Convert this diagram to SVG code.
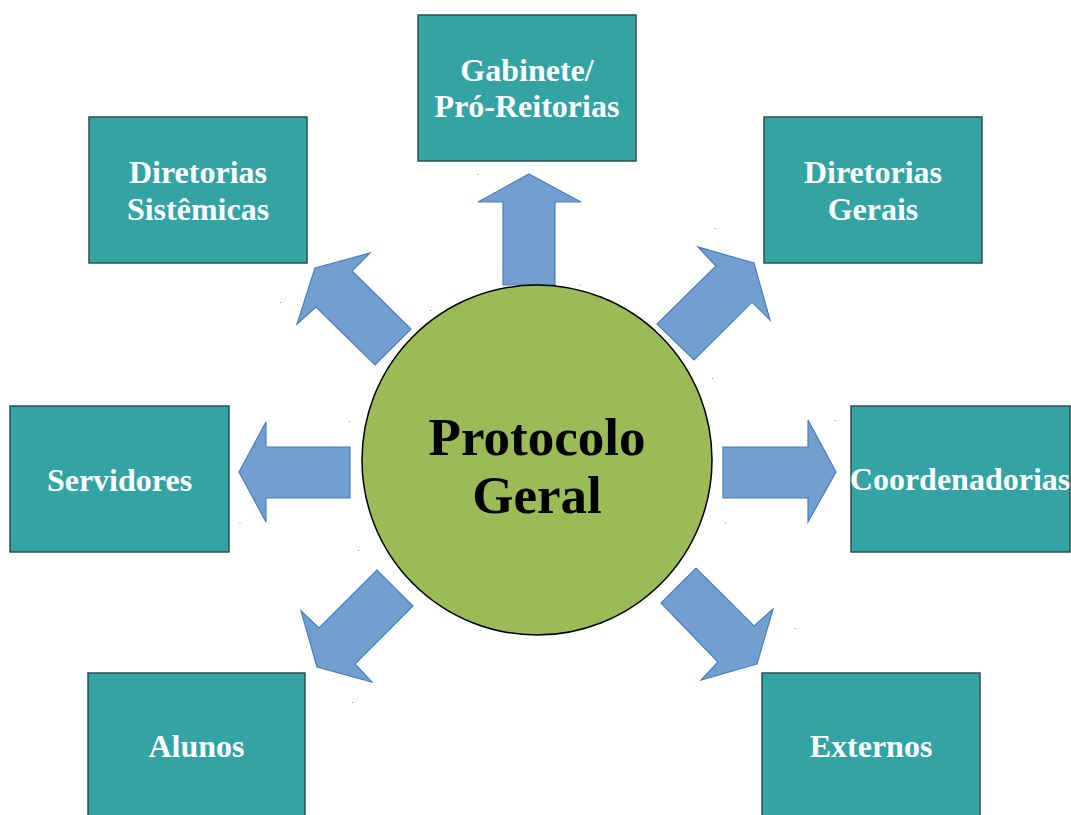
<svg xmlns="http://www.w3.org/2000/svg" width="1071" height="815" viewBox="0 0 1071 815">
  <style>
    .box { fill: #33a3a3; stroke: #2f4f4f; stroke-width: 1.5; }
    .lbl { fill: #ffffff; font-family: "Liberation Serif", "Times New Roman", serif; font-weight: bold; font-size: 32px; text-anchor: middle; }
    .arrow { fill: #729fcf; stroke: #4a7ebb; stroke-width: 1.2; stroke-linejoin: miter; }
    .hub { fill: #9bbb59; stroke: #000000; stroke-width: 1.5; }
    .hubtxt { fill: #000000; font-family: "Liberation Serif", "Times New Roman", serif; font-weight: bold; font-size: 53px; text-anchor: middle; }
    .dot { fill: #6f8fb8; }
  </style>
  <rect width="1071" height="815" fill="#ffffff"/>

  <!-- connectors: block arrows radiating from the hub -->
  <g id="connectors">
    <polygon class="arrow" points="529,174 581,202 555,202 555,285 503,285 503,202 478,202"/>
    <polygon class="arrow" points="315,268 370,253 352,271 411,329 375,365 316,307 297,324"/>
    <polygon class="arrow" points="754,263 770,320 752,302 694,360 657,324 716,266 698,247"/>
    <polygon class="arrow" points="239,472 266,422 266,447 350,447 350,498 266,498 266,522"/>
    <polygon class="arrow" points="836,472 808,522 808,498 723,498 723,447 808,447 808,420"/>
    <polygon class="arrow" points="317,667 301,611 319,628 377,570 413,606 355,664 372,682"/>
    <polygon class="arrow" points="757,664 701,680 718,662 661,603 696,568 754,626 773,609"/>
  </g>

  <!-- scattered marker dots -->
  <g id="marks">
    <rect class="dot" x="477.5" y="174" width="1" height="1"/>
    <rect class="dot" x="579.5" y="284.5" width="1" height="1"/>
    <rect class="dot" x="715" y="228" width="1" height="1"/>
    <rect class="dot" x="280" y="302" width="1" height="1"/>
    <rect class="dot" x="430" y="310" width="1" height="1"/>
    <rect class="dot" x="712" y="378" width="1" height="1"/>
    <rect class="dot" x="349" y="421" width="1" height="1"/>
    <rect class="dot" x="835" y="420" width="1" height="1"/>
    <rect class="dot" x="239.5" y="522.5" width="1" height="1"/>
    <rect class="dot" x="725" y="522.5" width="1" height="1"/>
    <rect class="dot" x="358" y="550" width="1" height="1"/>
    <rect class="dot" x="795" y="628" width="1" height="1"/>
    <rect class="dot" x="352" y="702" width="1" height="1"/>
  </g>

  <g id="hub">
    <circle class="hub" cx="537" cy="460" r="175"/>
    <text class="hubtxt" x="537" y="455">Protocolo</text>
    <text class="hubtxt" x="537" y="513">Geral</text>
  </g>

  <g id="gabinete">
    <rect class="box" x="418" y="15" width="218" height="146"/>
    <text class="lbl" x="527" y="81">Gabinete/</text>
    <text class="lbl" x="527" y="117">Pró-Reitorias</text>
  </g>

  <g id="diretorias-sistemicas">
    <rect class="box" x="89" y="117" width="218" height="146"/>
    <text class="lbl" x="198" y="183">Diretorias</text>
    <text class="lbl" x="198" y="220">Sistêmicas</text>
  </g>

  <g id="diretorias-gerais">
    <rect class="box" x="764" y="117" width="218" height="146"/>
    <text class="lbl" x="873" y="183">Diretorias</text>
    <text class="lbl" x="873" y="220">Gerais</text>
  </g>

  <g id="servidores">
    <rect class="box" x="10" y="406" width="219" height="146"/>
    <text class="lbl" x="119.5" y="490.5">Servidores</text>
  </g>

  <g id="coordenadorias">
    <rect class="box" x="851" y="406" width="219" height="146"/>
    <text class="lbl" x="960" y="490">Coordenadorias</text>
  </g>

  <g id="alunos">
    <rect class="box" x="88" y="673" width="217" height="146"/>
    <text class="lbl" x="196.5" y="757">Alunos</text>
  </g>

  <g id="externos">
    <rect class="box" x="762" y="673" width="218" height="146"/>
    <text class="lbl" x="871" y="757">Externos</text>
  </g>
</svg>
